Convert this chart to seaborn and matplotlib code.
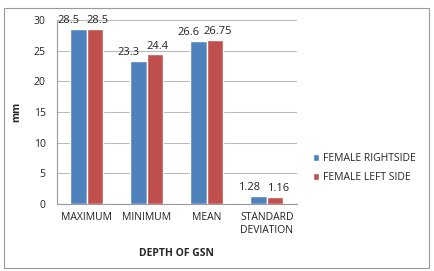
import pandas as pd
import numpy as np
import matplotlib.pyplot as plt
import seaborn as sns
from matplotlib.patches import Rectangle

# data
categories = ['MAXIMUM', 'MINIMUM', 'MEAN', 'STANDARD\nDEVIATION']
right_side = [28.5, 23.3, 26.6, 1.28]
left_side = [28.5, 24.4, 26.75, 1.16]
right_labels = ['28.5', '23.3', '26.6', '1.28']
left_labels = ['28.5', '24.4', '26.75', '1.16']
series = ['FEMALE RIGHTSIDE', 'FEMALE LEFT SIDE']

df = pd.DataFrame({
    'cat': categories * 2,
    'val': right_side + left_side,
    'series': [series[0]] * 4 + [series[1]] * 4,
})

sns.set_style('white')
plt.rcParams['font.family'] = ['Open Sans', 'DejaVu Sans']

fig = plt.figure(figsize=(4.34, 2.71), dpi=100)
ax = fig.add_axes([0.131, 0.247, 0.553, 0.679])

sns.barplot(data=df, x='cat', y='val', hue='series', order=categories,
            palette=['#4F81BD', '#C0504D'], width=0.55, gap=0, ax=ax,
            saturation=1, errorbar=None, legend=True)

# value labels, nudged apart like the office chart does
for cont, labs, dx in zip(ax.containers, [right_labels, left_labels], [-7, 2]):
    for bar, lab in zip(cont, labs):
        ax.annotate(lab, (bar.get_x() + bar.get_width() / 2, bar.get_height()),
                    xytext=(dx, 2), textcoords='offset points',
                    ha='center', va='bottom', fontsize=8, color='#222222')

ax.set_ylim(0, 30)
ax.set_yticks(range(0, 31, 5))
ax.yaxis.grid(True, color='#BBBBBB', linewidth=0.8)
ax.set_axisbelow(True)
for s in ['top', 'right']:
    ax.spines[s].set_visible(False)
ax.spines['left'].set_color('#999999')
ax.spines['bottom'].set_color('#999999')
ax.tick_params(axis='both', labelsize=7.5, length=0, colors='#222222')
ax.tick_params(axis='x', pad=6)
ax.tick_params(axis='y', pad=8)
ax.set_xlabel('DEPTH OF GSN', fontsize=7.5, fontweight='bold', labelpad=9)
ax.set_ylabel('mm', fontsize=7.5, fontweight='bold', labelpad=8)

ax.legend(loc='upper left', bbox_to_anchor=(1.05, 0.3), frameon=False,
          fontsize=7.5, handlelength=0.6, handleheight=0.6, handletextpad=0.4,
          labelspacing=0.8, borderaxespad=0)

fig.patches.append(Rectangle((4 / 434, 3 / 271), 425 / 434, 260 / 271,
                             transform=fig.transFigure, fill=False,
                             edgecolor='#999999', linewidth=0.8))

fig.savefig('out.png', dpi=100)
